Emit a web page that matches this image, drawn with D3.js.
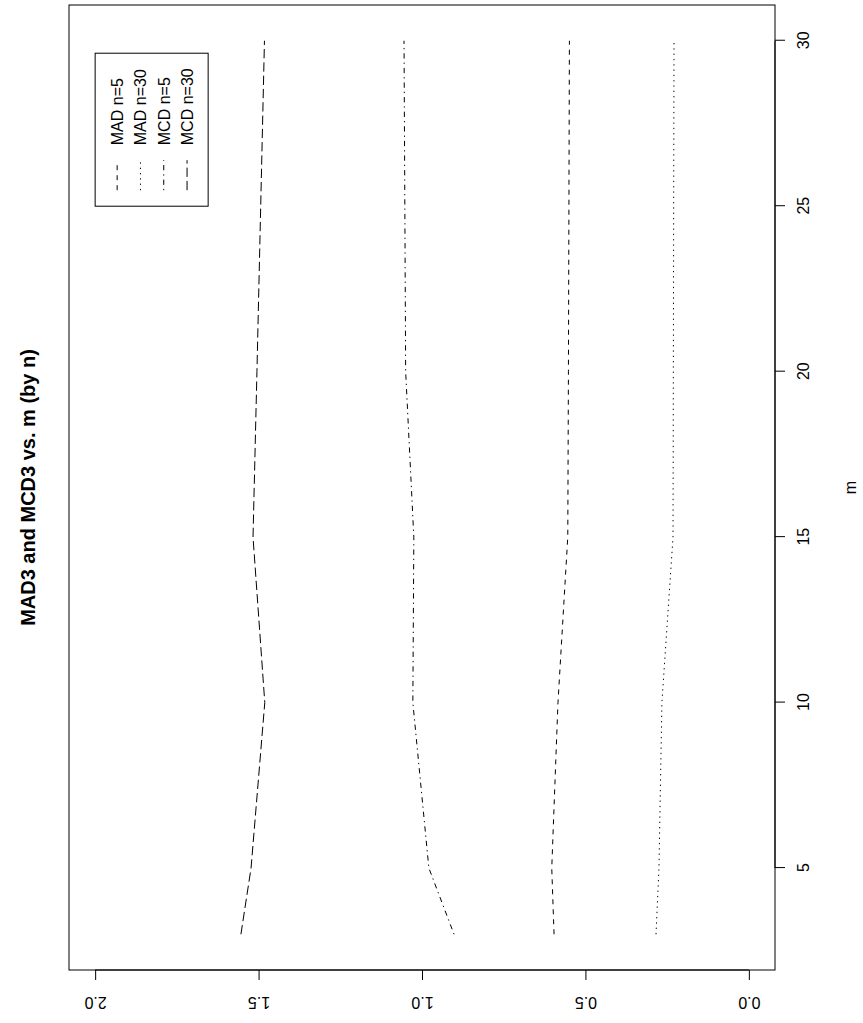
<!doctype html>
<html lang="en">
<head>
	<meta charset="UTF-8">
	<title>MAD3 and MCD3 vs. m</title>
	<script src="https://cdn.jsdelivr.net/npm/d3@7"></script>
	<style>
		body { margin: 0; background: #fff; }
		svg { display: block; }
		text { font-family: "Liberation Sans", Arial, Helvetica, sans-serif; fill: #000; }
	</style>
</head>
<body>
<script>
// values (m on the x axis, estimate on the y axis)
var mVals  = [3, 5, 10, 15, 20, 30];
var madN5  = [0.596, 0.603, 0.584, 0.554, 0.552, 0.549];
var madN30 = [0.284, 0.275, 0.266, 0.232, 0.231, 0.229];
var mcdN5  = [0.902, 0.979, 1.028, 1.025, 1.050, 1.055];
var mcdN30 = [1.554, 1.523, 1.481, 1.517, 1.505, 1.482];

var seriesNames = ["MAD n=5", "MAD n=30", "MCD n=5", "MCD n=30"];
var seriesVals  = [madN5, madN30, mcdN5, mcdN30];
var dashes      = ["5,5", "1.3,4", "1.3,4,5.3,4", "9.3,4"]; // R lty 2..5

var xTicks = [5, 10, 15, 20, 25, 30];
var yTicks = [0, 0.5, 1.0, 1.5, 2.0];

var W = 863, H = 1023;

var svg = d3.select("body").append("svg")
	.attr("width", W)
	.attr("height", H);

// the R plot is drawn upright in a 1023 x 863 frame, then turned a quarter left
var g = svg.append("g")
	.attr("transform", "translate(0," + H + ") rotate(-90)");

// plot region (R pads the data range by 4%)
var box = {left: 53, right: 1018, top: 69, bottom: 775};

var x = d3.scaleLinear().domain([1.92, 31.08]).range([box.left, box.right]);
var y = d3.scaleLinear().domain([-0.08, 2.08]).range([box.bottom, box.top]);

// box
g.append("rect")
	.attr("x", box.left).attr("y", box.top)
	.attr("width", box.right - box.left).attr("height", box.bottom - box.top)
	.attr("fill", "none").attr("stroke", "#000").attr("stroke-width", 1);

// x axis (m)
var xAxis = g.append("g")
	.attr("transform", "translate(0," + box.bottom + ")")
	.call(d3.axisBottom(x).tickValues(xTicks).tickSize(10).tickPadding(13).tickFormat(d3.format("d")));
xAxis.select(".domain").attr("d", "M" + x(5) + ",0H" + x(30));
xAxis.selectAll("text").attr("font-size", "16px").attr("dy", "0.71em");

g.append("text")
	.attr("x", (box.left + box.right) / 2)
	.attr("y", 856)
	.attr("text-anchor", "middle")
	.attr("font-size", "16px")
	.text("m");

// y axis (values), labels parallel to the axis like R's las=0
var yAxis = g.append("g")
	.attr("transform", "translate(" + box.left + ",0)")
	.call(d3.axisLeft(y).tickValues(yTicks).tickSize(10).tickFormat(d3.format(".1f")));
yAxis.select(".domain").attr("d", "M0," + y(0) + "V" + y(2));
yAxis.selectAll(".tick text")
	.attr("font-size", "16px")
	.attr("text-anchor", "middle")
	.attr("x", null).attr("dy", null).attr("y", 0)
	.attr("transform", "translate(" + (26 - box.left) + ",0) rotate(-90)");

// title
g.append("text")
	.attr("x", (box.left + box.right) / 2)
	.attr("y", 35)
	.attr("text-anchor", "middle")
	.attr("font-size", "20px")
	.attr("font-weight", "bold")
	.text("MAD3 and MCD3 vs. m (by n)");

// the four lines
var line = d3.line()
	.x(function(d, i) { return x(mVals[i]); })
	.y(function(d) { return y(d); });

g.selectAll("path.series")
	.data(seriesVals)
	.enter().append("path")
	.attr("class", "series")
	.attr("d", line)
	.attr("fill", "none")
	.attr("stroke", "#000")
	.attr("stroke-width", 1)
	.attr("stroke-dasharray", function(d, i) { return dashes[i]; });

// legend anchored at (m = 25, value = 2)
var lx = x(25), ly = y(2.0);
var legend = g.append("g").attr("transform", "translate(" + lx + "," + ly + ")");
legend.append("rect")
	.attr("x", 0).attr("y", 0)
	.attr("width", 153).attr("height", 113)
	.attr("fill", "none").attr("stroke", "#000").attr("stroke-width", 1);

var item = legend.selectAll("g.item")
	.data(seriesNames)
	.enter().append("g")
	.attr("class", "item")
	.attr("transform", function(d, i) { return "translate(0," + (22 + i * 23.3) + ")"; });
item.append("line")
	.attr("x1", 16).attr("x2", 46)
	.attr("stroke", "#000").attr("stroke-width", 1)
	.attr("stroke-dasharray", function(d, i) { return dashes[i]; });
item.append("text")
	.attr("x", 61).attr("y", 6)
	.attr("font-size", "16px")
	.text(function(d) { return d; });
</script>
</body>
</html>
